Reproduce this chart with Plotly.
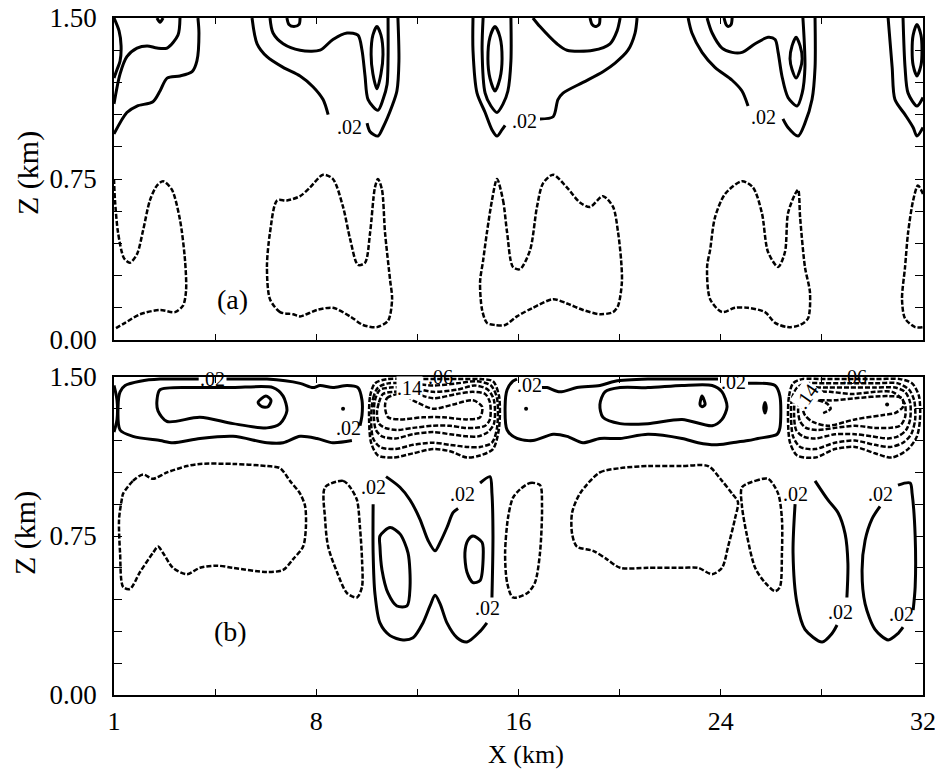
import plotly.graph_objects as go

# Isolines of the two cross-sections. x = distance along the transect (km),
# z = height (km). Each isoline is a list of (x, z) vertices.

# ---------------- (a) positive isolines (solid) ----------------
a_edge_inner = [(0, 1.50), (0.20, 1.44), (0.28, 1.37), (0.24, 1.30), (0.12, 1.26), (0, 1.22)]
a_edge_mid = [(2.61, 1.50), (2.53, 1.42), (2.10, 1.36), (1.70, 1.36), (1.31, 1.37), (0.91, 1.36),
              (0.51, 1.32), (0.24, 1.24), (0, 1.10)]
a_edge_outer = [(3.32, 1.50), (3.36, 1.43), (3.28, 1.30), (3.09, 1.25), (2.61, 1.23), (2.10, 1.22),
                (1.82, 1.16), (1.54, 1.11), (0.91, 1.09), (0.51, 1.06), (0, 0.96)]
a_edge_notch = [(1.70, 1.50), (1.82, 1.48), (1.94, 1.50)]

a_p1_outer_l = [(5.46, 1.50), (5.66, 1.38), (6.05, 1.32), (6.69, 1.27), (7.36, 1.23), (7.87, 1.18),
                (8.27, 1.12), (8.47, 1.05)]
a_p1_outer_r = [(10.01, 1.01), (10.13, 0.97), (10.44, 0.95), (10.64, 0.99), (11.00, 1.09),
                (11.19, 1.16), (11.27, 1.30), (11.23, 1.50)]
a_p1_mid = [(6.17, 1.50), (6.29, 1.43), (6.69, 1.38), (7.36, 1.35), (8.15, 1.35), (8.66, 1.40),
            (9.22, 1.43), (9.65, 1.42), (9.81, 1.35), (9.93, 1.23), (10.05, 1.12), (10.44, 1.07),
            (10.64, 1.12), (10.80, 1.19), (10.84, 1.31), (10.84, 1.50)]
a_p1_core = [(10.40, 1.46), (10.56, 1.42), (10.64, 1.33), (10.56, 1.24), (10.40, 1.17), (10.24, 1.24),
             (10.17, 1.33), (10.24, 1.42), (10.40, 1.46)]
a_p1_cap = [(6.84, 1.50), (6.92, 1.47), (7.12, 1.46), (7.32, 1.47), (7.36, 1.50)]

a_p2_outer_l = [(14.20, 1.50), (14.20, 1.35), (14.36, 1.15), (14.68, 1.06), (14.95, 0.98),
                (15.15, 0.95), (15.35, 0.98), (15.47, 1.00)]
a_p2_outer_r = [(16.85, 1.03), (17.37, 1.04), (17.56, 1.12), (17.76, 1.15), (18.55, 1.20),
                (19.34, 1.25), (19.82, 1.29), (20.33, 1.35), (20.61, 1.43), (20.69, 1.50)]
a_p2_mid = [(14.60, 1.50), (14.56, 1.35), (14.68, 1.15), (14.91, 1.09), (15.15, 1.06), (15.39, 1.10),
            (15.58, 1.16), (15.70, 1.30), (15.70, 1.50)]
a_p2_arc = [(16.57, 1.50), (16.85, 1.46), (17.52, 1.38), (17.92, 1.35), (18.95, 1.35), (19.62, 1.38),
            (19.90, 1.44), (20.02, 1.50)]
a_p2_core = [(15.07, 1.46), (15.27, 1.41), (15.35, 1.31), (15.27, 1.22), (15.07, 1.16), (14.87, 1.22),
             (14.79, 1.31), (14.87, 1.41), (15.07, 1.46)]
a_p2_cap = [(18.83, 1.50), (18.91, 1.47), (19.03, 1.46), (19.19, 1.47), (19.22, 1.50)]

a_p3_outer_l = [(22.71, 1.50), (22.86, 1.43), (23.26, 1.34), (23.77, 1.27), (24.45, 1.21),
                (24.84, 1.16), (25.08, 1.09)]
a_p3_outer_r = [(26.46, 1.03), (26.66, 0.99), (27.06, 0.95), (27.33, 1.01), (27.61, 1.12),
                (27.73, 1.27), (27.73, 1.50)]
a_p3_mid = [(23.46, 1.50), (23.66, 1.43), (24.05, 1.36), (24.45, 1.34), (24.84, 1.34), (25.36, 1.38),
            (25.87, 1.41), (26.15, 1.40), (26.27, 1.34), (26.42, 1.23), (26.66, 1.13), (27.02, 1.09),
            (27.22, 1.15), (27.33, 1.27), (27.25, 1.50)]
a_p3_core = [(26.98, 1.41), (27.14, 1.37), (27.22, 1.31), (27.14, 1.26), (26.98, 1.22), (26.82, 1.26),
             (26.74, 1.31), (26.82, 1.37), (26.98, 1.41)]
a_p3_cap = [(24.13, 1.50), (24.21, 1.47), (24.29, 1.46), (24.41, 1.47), (24.45, 1.50)]

a_p4_outer = [(30.62, 1.50), (30.78, 1.27), (30.89, 1.12), (31.29, 1.05), (31.61, 0.99), (31.76, 0.95),
              (32.0, 0.99)]
a_p4_mid = [(31.21, 1.50), (31.29, 1.27), (31.41, 1.15), (31.76, 1.09), (32.0, 1.13)]
a_p4_core = [(31.76, 1.47), (31.92, 1.42), (31.96, 1.35), (31.92, 1.28), (31.76, 1.23), (31.61, 1.28),
             (31.57, 1.35), (31.61, 1.42), (31.76, 1.47)]

# ---------------- (a) negative isolines (dashed) ----------------
a_neg_1 = [(0, 0.75), (0.04, 0.65), (0.16, 0.50), (0.40, 0.38), (0.63, 0.36), (0.91, 0.40), (1.15, 0.51),
           (1.42, 0.65), (1.70, 0.72), (1.94, 0.74), (2.29, 0.70), (2.61, 0.56), (2.81, 0.37), (2.85, 0.23),
           (2.73, 0.16), (2.41, 0.13), (1.82, 0.14), (1.03, 0.12), (0.44, 0.08), (0, 0.05)]
a_neg_2 = [(7.08, 0.12), (6.57, 0.13), (6.17, 0.19), (6.05, 0.34), (6.17, 0.50), (6.45, 0.65), (6.84, 0.65),
           (7.36, 0.67), (7.75, 0.71), (8.27, 0.77), (8.66, 0.75), (9.06, 0.62), (9.34, 0.47), (9.65, 0.35),
           (9.93, 0.36), (10.13, 0.50), (10.32, 0.71), (10.44, 0.75), (10.60, 0.70), (10.72, 0.50),
           (10.92, 0.28), (11.00, 0.19), (10.84, 0.09), (10.40, 0.06), (9.85, 0.07), (9.34, 0.11),
           (8.66, 0.15), (8.03, 0.14), (7.36, 0.11), (7.08, 0.12)]
a_neg_3 = [(15.15, 0.75), (15.39, 0.65), (15.55, 0.50), (15.78, 0.34), (16.06, 0.33), (16.46, 0.42),
           (16.73, 0.62), (16.97, 0.73), (17.37, 0.77), (17.92, 0.71), (18.43, 0.64), (18.83, 0.62),
           (19.34, 0.67), (19.74, 0.62), (19.94, 0.50), (20.06, 0.37), (20.09, 0.27), (19.94, 0.16),
           (19.74, 0.13), (19.22, 0.12), (18.55, 0.14), (17.92, 0.17), (17.37, 0.19), (16.57, 0.15),
           (15.94, 0.11), (15.47, 0.07), (15.07, 0.07), (14.75, 0.08), (14.56, 0.14), (14.48, 0.27),
           (14.60, 0.37), (14.75, 0.50), (14.95, 0.65), (15.15, 0.75)]
a_neg_4 = [(24.84, 0.74), (25.28, 0.71), (25.63, 0.59), (25.87, 0.41), (26.27, 0.34), (26.54, 0.41),
           (26.66, 0.59), (26.94, 0.68), (27.06, 0.70), (27.14, 0.57), (27.33, 0.34), (27.53, 0.22),
           (27.45, 0.10), (27.14, 0.07), (26.66, 0.06), (26.15, 0.08), (25.75, 0.13), (25.08, 0.15),
           (24.56, 0.15), (24.05, 0.13), (23.58, 0.19), (23.46, 0.34), (23.58, 0.42), (23.77, 0.57),
           (24.17, 0.68), (24.84, 0.74)]
a_neg_5 = [(32.0, 0.68), (31.80, 0.72), (31.61, 0.65), (31.41, 0.50), (31.29, 0.34), (31.17, 0.19),
           (31.29, 0.10), (31.69, 0.06), (32.0, 0.06)]

# ---------------- (b) positive isolines (solid) ----------------
b_edge_sliver = [(0, 1.46), (0.12, 1.39), (0.12, 1.30), (0, 1.24)]
b_c1_outer_a = [(9.73, 1.27), (9.81, 1.32), (9.81, 1.39), (9.65, 1.45), (9.22, 1.46), (8.66, 1.45),
                (8.15, 1.46), (7.87, 1.45), (7.36, 1.47), (6.05, 1.49), (4.71, 1.49), (4.45, 1.49)]
b_c1_outer_b = [(3.35, 1.49), (1.82, 1.49), (1.03, 1.48), (0.44, 1.46), (0.24, 1.43), (0.16, 1.36),
                (0.24, 1.25), (0.75, 1.22), (1.82, 1.20), (2.33, 1.19), (3.40, 1.21), (4.71, 1.22),
                (6.05, 1.19), (6.69, 1.19), (7.36, 1.22), (8.03, 1.21), (8.66, 1.19), (9.41, 1.20)]
b_c1_inner = [(1.70, 1.39), (1.82, 1.44), (3.40, 1.45), (4.71, 1.45), (6.29, 1.45), (6.69, 1.41),
              (6.84, 1.34), (6.57, 1.28), (6.05, 1.26), (4.71, 1.28), (3.40, 1.31), (2.10, 1.29),
              (1.74, 1.34), (1.70, 1.39)]
b_c1_knot = [(5.70, 1.38), (6.01, 1.41), (6.21, 1.39), (6.09, 1.36), (5.85, 1.36), (5.70, 1.38)]

b_c2_outer_a = [(25.08, 1.47), (26.15, 1.46), (26.34, 1.41), (26.34, 1.26), (26.23, 1.23), (25.47, 1.21),
                (25.08, 1.20), (24.45, 1.19), (23.77, 1.18), (23.10, 1.19), (22.47, 1.21), (21.12, 1.23),
                (20.02, 1.21), (19.22, 1.21), (18.55, 1.19), (17.92, 1.22), (17.37, 1.23), (16.57, 1.20),
                (15.94, 1.21), (15.55, 1.25), (15.47, 1.36), (15.55, 1.44), (15.78, 1.48), (15.94, 1.49)]
b_c2_outer_b = [(16.93, 1.45), (17.13, 1.45), (17.64, 1.43), (18.31, 1.45), (19.22, 1.46), (19.82, 1.48),
                (21.12, 1.49), (22.47, 1.49), (23.89, 1.49)]
b_c2_inner = [(19.42, 1.43), (20.02, 1.45), (21.12, 1.45), (22.47, 1.46), (23.66, 1.46), (24.05, 1.43),
              (24.25, 1.36), (24.05, 1.30), (23.66, 1.27), (22.47, 1.30), (21.12, 1.28), (20.02, 1.28),
              (19.34, 1.31), (19.22, 1.37), (19.42, 1.43)]
b_c2_knot = [(23.18, 1.37), (23.26, 1.41), (23.38, 1.37), (23.26, 1.36), (23.18, 1.37)]
b_c2_tick = [(25.75, 1.38), (25.80, 1.355), (25.75, 1.33), (25.70, 1.355), (25.75, 1.38)]

b_lobe_upper = [(10.76, 1.03), (11.31, 0.98), (11.71, 0.92), (12.10, 0.83), (12.42, 0.73), (12.70, 0.68),
                (12.90, 0.72), (13.17, 0.79), (13.41, 0.86), (13.61, 0.88)]
b_lobe_right = [(14.48, 1.00), (14.87, 1.03), (14.95, 0.95), (14.99, 0.75), (14.95, 0.46)]
b_lobe_lower = [(14.75, 0.34), (14.48, 0.30), (13.96, 0.25), (13.57, 0.27), (13.17, 0.34), (12.90, 0.43),
                (12.70, 0.47), (12.50, 0.42), (12.22, 0.34), (11.83, 0.27), (11.43, 0.26), (10.92, 0.28),
                (10.52, 0.34), (10.32, 0.48), (10.25, 0.67), (10.25, 0.90)]
b_lobe_core_l = [(10.52, 0.75), (10.92, 0.79), (11.31, 0.76), (11.63, 0.67), (11.71, 0.51), (11.59, 0.42),
                 (11.19, 0.42), (10.84, 0.48), (10.60, 0.59), (10.52, 0.70), (10.52, 0.75)]
b_lobe_core_r = [(14.20, 0.75), (14.56, 0.72), (14.60, 0.64), (14.48, 0.54), (14.20, 0.53), (13.96, 0.58),
                 (13.88, 0.67), (14.00, 0.73), (14.20, 0.75)]
b_right_a1 = [(26.94, 0.90), (26.86, 0.67), (27.02, 0.43), (27.33, 0.31), (28.01, 0.25), (28.40, 0.29),
              (28.60, 0.33)]
b_right_a2 = [(27.73, 1.01), (28.24, 0.92), (28.64, 0.86), (28.92, 0.76), (29.03, 0.62), (28.99, 0.46)]
b_right_b1 = [(30.30, 0.89), (29.98, 0.83), (29.71, 0.73), (29.59, 0.59), (29.71, 0.43), (30.10, 0.31),
              (30.62, 0.26), (31.01, 0.29), (31.21, 0.32)]
b_right_b2 = [(31.01, 0.99), (31.49, 1.00), (31.57, 0.95), (31.69, 0.75), (31.69, 0.51), (31.61, 0.40)]

# ---------------- (b) negative isolines (dashed) ----------------
b_cell1_0 = [(10.09, 1.30), (10.13, 1.41), (10.32, 1.47), (10.80, 1.49), (11.71, 1.49), (12.62, 1.49),
             (13.57, 1.49), (14.48, 1.49), (14.99, 1.48), (15.23, 1.41), (15.23, 1.26), (14.99, 1.16),
             (14.48, 1.13), (13.96, 1.12), (13.29, 1.15), (12.62, 1.16), (11.83, 1.14), (11.04, 1.12),
             (10.44, 1.13), (10.17, 1.19), (10.09, 1.30)]
b_cell1_1 = [(10.17, 1.30), (10.25, 1.40), (10.44, 1.45), (10.84, 1.47), (11.71, 1.47), (12.62, 1.46),
             (13.57, 1.47), (14.36, 1.48), (14.91, 1.46), (15.15, 1.40), (15.15, 1.26), (14.95, 1.19),
             (14.48, 1.17), (13.96, 1.17), (13.29, 1.18), (12.62, 1.19), (11.83, 1.18), (11.12, 1.16),
             (10.52, 1.17), (10.25, 1.21), (10.17, 1.30)]
b_cell1_2 = [(10.28, 1.31), (10.32, 1.39), (10.52, 1.44), (10.92, 1.45), (11.71, 1.45), (12.62, 1.43),
             (13.57, 1.44), (14.28, 1.46), (14.79, 1.44), (15.03, 1.39), (15.03, 1.28), (14.79, 1.24),
             (14.40, 1.22), (13.96, 1.22), (13.29, 1.23), (12.62, 1.24), (11.83, 1.23), (11.12, 1.21),
             (10.60, 1.22), (10.36, 1.25), (10.28, 1.31)]
b_cell1_3 = [(10.40, 1.33), (10.48, 1.38), (10.64, 1.42), (11.04, 1.43), (11.71, 1.43), (12.62, 1.40),
             (13.57, 1.42), (14.20, 1.43), (14.68, 1.42), (14.87, 1.38), (14.87, 1.30), (14.68, 1.27),
             (14.28, 1.26), (13.88, 1.26), (13.29, 1.27), (12.62, 1.27), (11.83, 1.26), (11.19, 1.25),
             (10.72, 1.26), (10.48, 1.28), (10.40, 1.33)]
b_cell1_4 = [(10.72, 1.36), (10.80, 1.40), (11.31, 1.42), (11.99, 1.38), (12.62, 1.35), (13.41, 1.37),
             (14.20, 1.39), (14.56, 1.36), (14.48, 1.31), (13.96, 1.30), (13.01, 1.31), (12.22, 1.31),
             (11.31, 1.30), (10.84, 1.31), (10.72, 1.36)]

b_cell2_0 = [(26.66, 1.30), (26.70, 1.41), (26.86, 1.47), (27.22, 1.49), (28.12, 1.49), (29.03, 1.49),
             (30.10, 1.49), (31.09, 1.49), (31.57, 1.47), (31.84, 1.41), (31.88, 1.30), (31.76, 1.22),
             (31.41, 1.16), (30.78, 1.12), (30.10, 1.14), (29.31, 1.17), (28.52, 1.16), (27.73, 1.12),
             (27.02, 1.13), (26.74, 1.19), (26.66, 1.30)]
b_cell2_1 = [(26.78, 1.31), (26.82, 1.40), (27.02, 1.45), (27.37, 1.47), (28.12, 1.47), (29.03, 1.47),
             (30.10, 1.47), (31.01, 1.47), (31.45, 1.44), (31.65, 1.39), (31.69, 1.30), (31.53, 1.23),
             (31.21, 1.19), (30.70, 1.17), (30.10, 1.18), (29.31, 1.20), (28.52, 1.19), (27.73, 1.16),
             (27.14, 1.17), (26.86, 1.22), (26.78, 1.31)]
b_cell2_2 = [(26.90, 1.32), (26.94, 1.39), (27.14, 1.44), (27.45, 1.45), (28.24, 1.45), (29.11, 1.45),
             (30.10, 1.45), (30.89, 1.45), (31.29, 1.43), (31.49, 1.38), (31.49, 1.30), (31.33, 1.25),
             (31.01, 1.22), (30.62, 1.21), (29.98, 1.22), (29.31, 1.23), (28.52, 1.23), (27.73, 1.21),
             (27.25, 1.22), (26.98, 1.25), (26.90, 1.32)]
b_cell2_3 = [(27.06, 1.34), (27.10, 1.38), (27.29, 1.42), (27.61, 1.43), (28.32, 1.43), (29.19, 1.42),
             (30.10, 1.43), (30.78, 1.43), (31.13, 1.40), (31.29, 1.37), (31.29, 1.31), (31.09, 1.27),
             (30.70, 1.26), (30.10, 1.26), (29.31, 1.27), (28.52, 1.26), (27.81, 1.25), (27.37, 1.26),
             (27.14, 1.29), (27.06, 1.34)]
b_cell2_4 = [(27.25, 1.35), (27.37, 1.38), (27.73, 1.39), (28.52, 1.39), (29.31, 1.40), (30.62, 1.41),
             (31.17, 1.40), (31.21, 1.36), (30.89, 1.33), (30.38, 1.32), (29.31, 1.30), (28.24, 1.27),
             (27.61, 1.29), (27.33, 1.32), (27.25, 1.35)]
b_cell2_arc = [(27.85, 1.39), (28.20, 1.375), (28.35, 1.35), (28.05, 1.33)]

b_neg_1 = [(0.36, 0.95), (0.75, 1.01), (1.15, 1.04), (1.54, 1.02), (2.10, 1.05), (2.89, 1.08), (3.40, 1.09),
           (4.71, 1.09), (6.05, 1.08), (6.57, 1.07), (6.96, 1.01), (7.36, 0.95), (7.56, 0.89), (7.59, 0.79),
           (7.48, 0.70), (7.08, 0.64), (6.69, 0.59), (6.05, 0.58), (4.71, 0.60), (4.07, 0.61), (3.40, 0.60),
           (2.89, 0.57), (2.33, 0.60), (1.94, 0.67), (1.74, 0.70), (1.54, 0.67), (1.03, 0.58), (0.63, 0.50),
           (0.36, 0.51), (0.24, 0.67), (0.20, 0.83), (0.32, 0.93), (0.36, 0.95)]
b_neg_2 = [(8.35, 0.98), (9.06, 1.01), (9.34, 0.98), (9.61, 0.92), (9.73, 0.79), (9.81, 0.64), (9.81, 0.51),
           (9.61, 0.46), (9.22, 0.48), (8.82, 0.58), (8.47, 0.70), (8.35, 0.83), (8.35, 0.98)]
b_neg_3 = [(16.06, 0.97), (16.46, 1.00), (16.85, 0.99), (16.93, 0.89), (16.85, 0.67), (16.65, 0.53),
           (16.34, 0.48), (15.78, 0.46), (15.55, 0.53), (15.47, 0.67), (15.59, 0.84), (15.78, 0.93),
           (16.06, 0.97)]
b_neg_4 = [(18.43, 0.95), (19.22, 1.05), (20.02, 1.07), (21.12, 1.08), (22.47, 1.08), (23.50, 1.08),
           (24.05, 1.01), (24.45, 0.95), (24.68, 0.91), (24.56, 0.83), (24.29, 0.70), (24.05, 0.60),
           (23.66, 0.57), (23.10, 0.60), (22.47, 0.60), (21.12, 0.60), (20.02, 0.60), (19.50, 0.64),
           (18.95, 0.68), (18.31, 0.70), (18.12, 0.76), (18.12, 0.86), (18.43, 0.95)]
b_neg_5 = [(24.84, 0.98), (25.36, 1.01), (25.87, 1.02), (26.27, 0.95), (26.42, 0.83), (26.42, 0.67),
           (26.34, 0.51), (26.15, 0.49), (25.75, 0.53), (25.36, 0.60), (25.04, 0.75), (24.84, 0.89),
           (24.84, 0.98)]

# Isolated extrema drawn as dots
b_dots = [(9.06, 1.35), (16.30, 1.35), (30.58, 1.37)]

# Isoline value labels: (x, z, text, panel, angle, boxed)
level_labels = [
    (9.30, 0.99, ".02", "a", 0, False), (16.22, 1.02, ".02", "a", 0, False),
    (25.69, 1.04, ".02", "a", 0, False),
    (3.90, 1.49, ".02", "b", 0, False), (9.26, 1.26, ".02", "b", 0, False),
    (16.42, 1.46, ".02", "b", 0, False), (24.49, 1.475, ".02", "b", 0, False),
    (12.90, 1.50, ".06", "b", 0, False), (11.70, 1.45, ".14", "b", 0, True),
    (29.30, 1.50, ".06", "b", 0, False), (27.40, 1.41, ".14", "b", -55, True),
    (10.25, 0.98, ".02", "b", 0, False), (13.77, 0.95, ".02", "b", 0, False),
    (14.79, 0.41, ".02", "b", 0, False), (26.94, 0.95, ".02", "b", 0, False),
    (28.72, 0.39, ".02", "b", 0, False), (30.30, 0.95, ".02", "b", 0, False),
    (31.13, 0.38, ".02", "b", 0, False),
]

x_tick_vals = [0, 4, 8, 12, 16, 20, 24, 28, 32]
x_tick_text = ["1", "", "8", "", "16", "", "24", "", "32"]
z_tick_vals = [0.0, 0.15, 0.30, 0.45, 0.60, 0.75, 0.90, 1.05, 1.20, 1.35, 1.50]
z_tick_text = ["0.00", "", "", "", "", "0.75", "", "", "", "", "1.50"]

solid_a = [a_edge_inner, a_edge_mid, a_edge_outer, a_edge_notch,
           a_p1_outer_l, a_p1_outer_r, a_p1_mid, a_p1_core, a_p1_cap,
           a_p2_outer_l, a_p2_outer_r, a_p2_mid, a_p2_arc, a_p2_core, a_p2_cap,
           a_p3_outer_l, a_p3_outer_r, a_p3_mid, a_p3_core, a_p3_cap,
           a_p4_outer, a_p4_mid, a_p4_core]
dashed_a = [a_neg_1, a_neg_2, a_neg_3, a_neg_4, a_neg_5]
solid_b = [b_edge_sliver, b_c1_outer_a, b_c1_outer_b, b_c1_inner, b_c1_knot,
           b_c2_outer_a, b_c2_outer_b, b_c2_inner, b_c2_knot, b_c2_tick,
           b_lobe_upper, b_lobe_right, b_lobe_lower, b_lobe_core_l, b_lobe_core_r,
           b_right_a1, b_right_a2, b_right_b1, b_right_b2]
dashed_b = [b_cell1_0, b_cell1_1, b_cell1_2, b_cell1_3, b_cell1_4,
            b_cell2_0, b_cell2_1, b_cell2_2, b_cell2_3, b_cell2_4, b_cell2_arc,
            b_neg_1, b_neg_2, b_neg_3, b_neg_4, b_neg_5]

SERIF = "Liberation Serif, Times New Roman, serif"
AXES = {"a": ("x", "y"), "b": ("x2", "y2")}

fig = go.Figure()


def add_isoline(pts, panel, dashed):
    xa, ya = AXES[panel]
    fig.add_trace(go.Scatter(
        x=[p[0] for p in pts], y=[p[1] for p in pts], xaxis=xa, yaxis=ya,
        mode="lines", hoverinfo="skip", showlegend=False,
        line=dict(color="black", width=2.5 if dashed else 3.0,
                  dash="5px,2px" if dashed else "solid",
                  shape="spline", smoothing=0.8)))


for pts in solid_a:
    add_isoline(pts, "a", False)
for pts in dashed_a:
    add_isoline(pts, "a", True)
for pts in solid_b:
    add_isoline(pts, "b", False)
for pts in dashed_b:
    add_isoline(pts, "b", True)

fig.add_trace(go.Scatter(x=[p[0] for p in b_dots], y=[p[1] for p in b_dots], xaxis="x2", yaxis="y2",
                         mode="markers", marker=dict(color="black", size=4),
                         hoverinfo="skip", showlegend=False))

annotations = []
for x, z, txt, panel, ang, boxed in level_labels:
    xa, ya = AXES[panel]
    annotations.append(dict(x=x, y=z, xref=xa, yref=ya, text=txt, showarrow=False,
                            xanchor="center", yanchor="middle", textangle=ang,
                            font=dict(family=SERIF, size=20, color="black"),
                            bgcolor="white" if boxed else None, borderpad=0))


def title_note(x, y, xref, yref, text, size, angle=0):
    return dict(x=x, y=y, xref=xref, yref=yref, text=text, showarrow=False, textangle=angle,
                xanchor="center", yanchor="middle", font=dict(family=SERIF, size=size, color="black"))


annotations += [
    title_note(4.67, 0.19, "x", "y", "(a)", 28),
    title_note(4.60, 0.30, "x2", "y2", "(b)", 28),
    title_note(28 / 935, 1 - 173 / 771, "paper", "paper", "Z (km)", 30, -90),
    title_note(25 / 935, 1 - 533 / 771, "paper", "paper", "Z (km)", 30, -90),
    title_note(526 / 935, 1 - 754 / 771, "paper", "paper", "X (km)", 26),
]

x_domain = [114 / 935, 923 / 935]
common_x = dict(range=[0, 32], tickvals=x_tick_vals, ticks="inside", ticklen=6, tickwidth=1.3,
                tickcolor="black", showline=True, linecolor="black", linewidth=1.6, mirror="ticks",
                showgrid=False, zeroline=False, domain=x_domain, automargin=False,
                ticklabeloverflow="allow",
                tickfont=dict(family=SERIF, size=26, color="black"))
common_z = dict(range=[0, 1.5], tickvals=z_tick_vals, ticktext=z_tick_text, ticks="inside", ticklen=8,
                tickwidth=1.3, tickcolor="black", showline=True, linecolor="black", linewidth=1.6,
                mirror="ticks", showgrid=False, zeroline=False, automargin=False, ticklabelstandoff=10,
                ticklabeloverflow="allow",
                tickfont=dict(family=SERIF, size=27, color="black"))

fig.update_layout(
    width=935, height=771, margin=dict(l=0, r=0, t=0, b=0),
    paper_bgcolor="white", plot_bgcolor="white", showlegend=False,
    xaxis=dict(common_x, anchor="y", ticktext=[""] * len(x_tick_vals)),
    yaxis=dict(common_z, anchor="x", domain=[1 - 340 / 771, 1 - 18 / 771]),
    xaxis2=dict(common_x, anchor="y2", ticktext=x_tick_text, ticklabelstandoff=2),
    yaxis2=dict(common_z, anchor="x2", domain=[1 - 695 / 771, 1 - 377 / 771]),
    annotations=annotations,
)

fig.write_html("out.html")
